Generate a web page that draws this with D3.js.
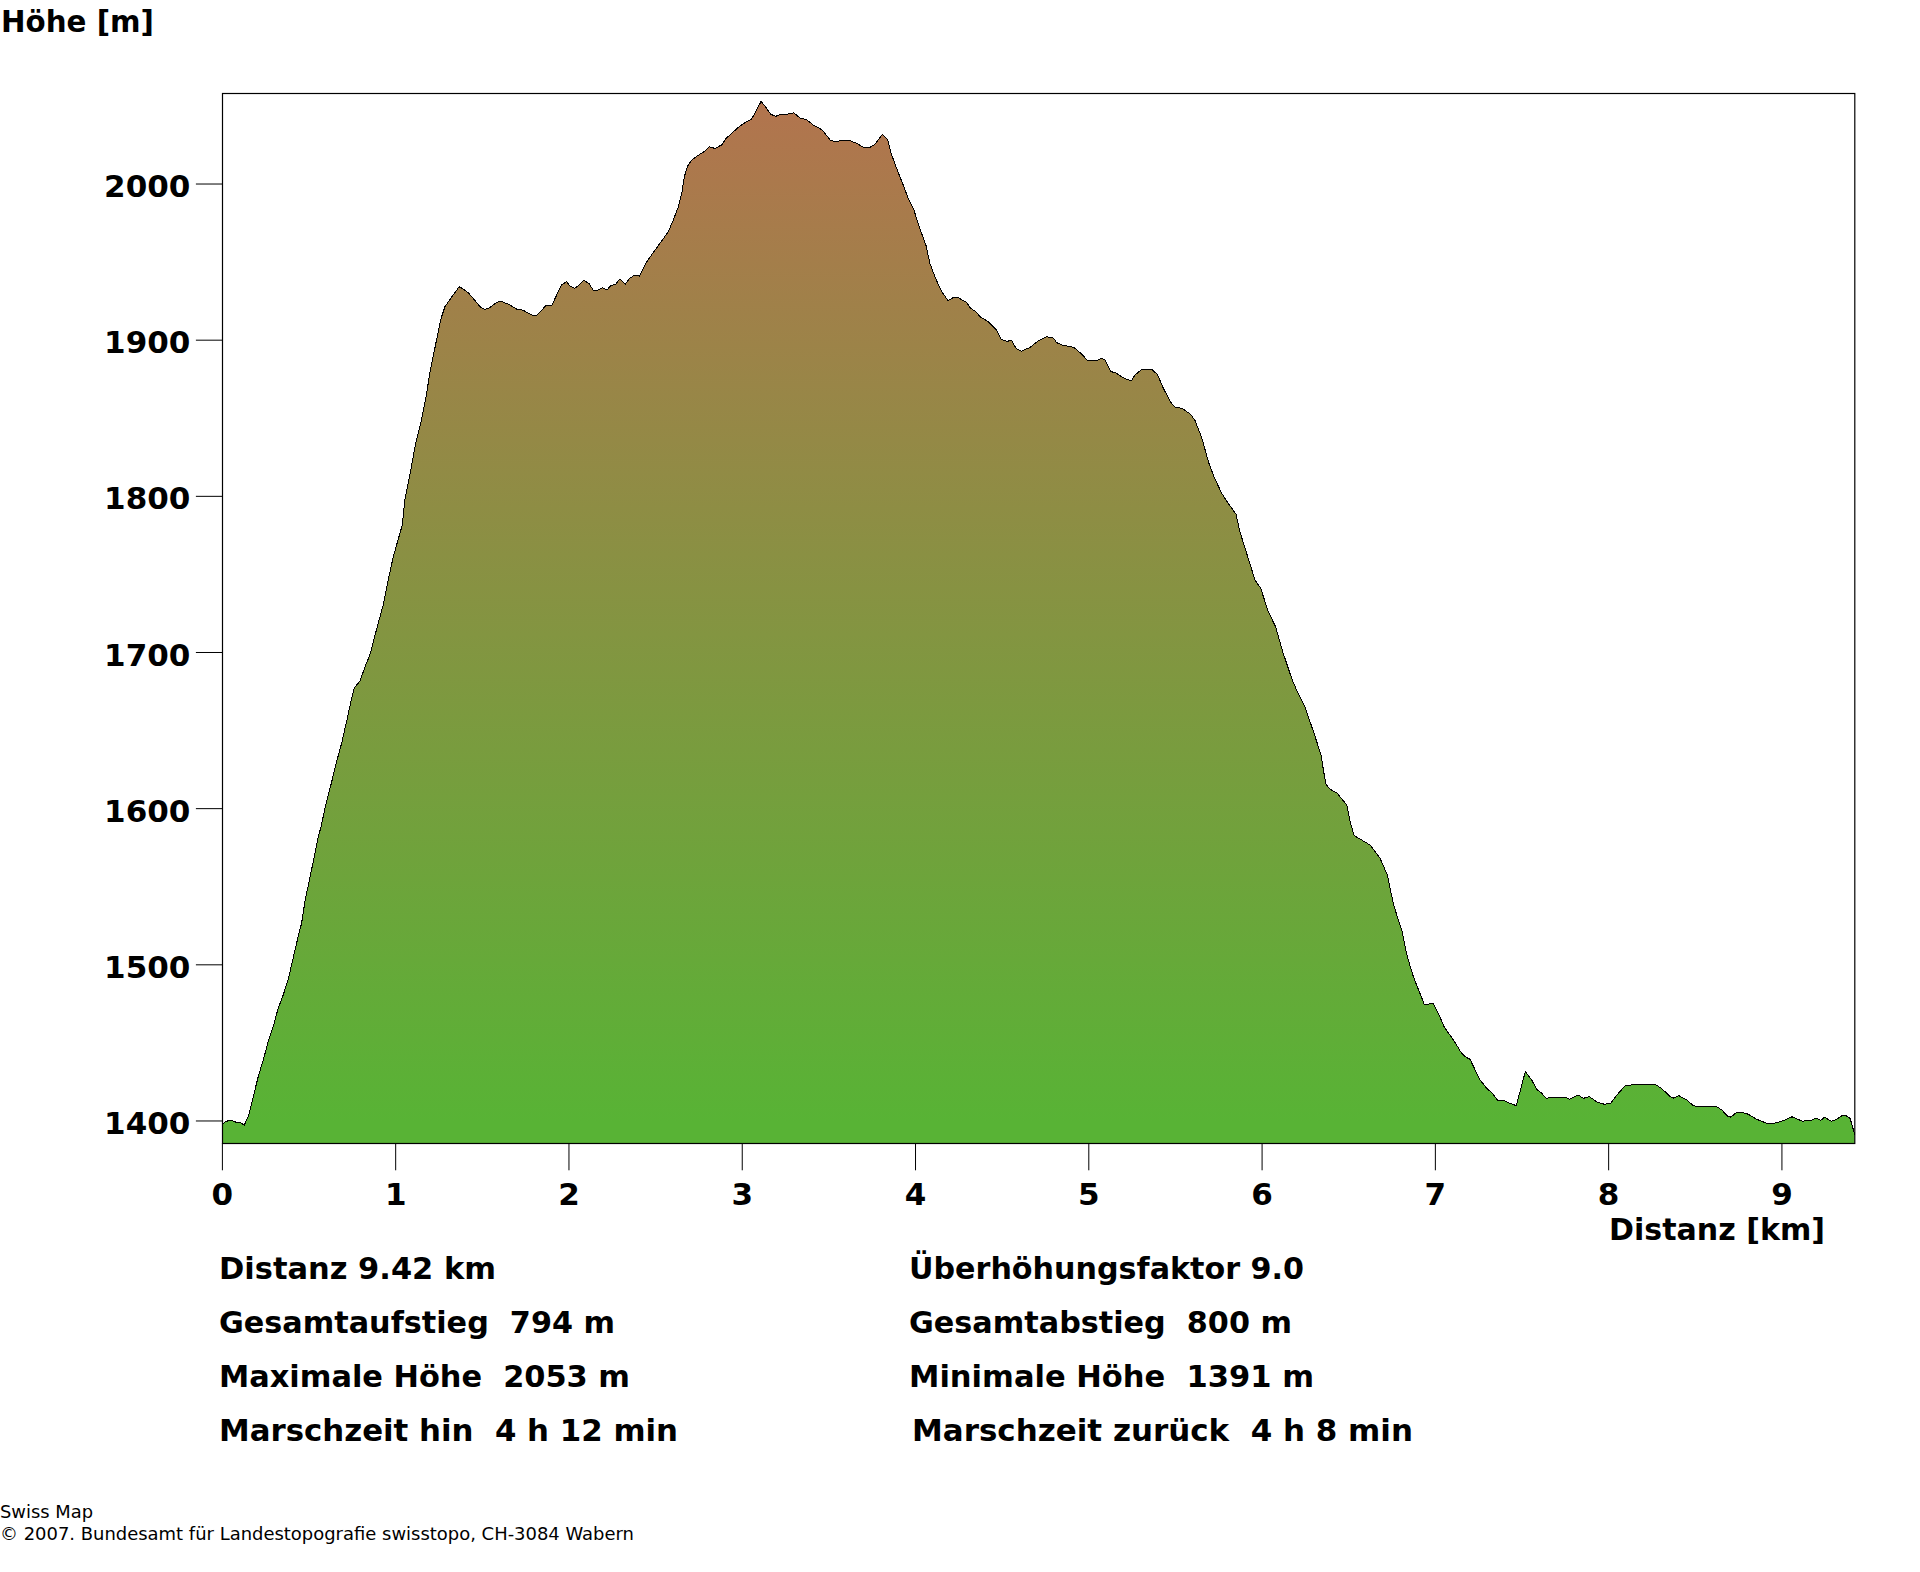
<!DOCTYPE html>
<html>
<head>
<meta charset="utf-8">
<script src="https://cdn.jsdelivr.net/npm/d3@7"></script>
<style>
html, body { margin: 0; padding: 0; background: #fff; }
svg { display: block; }
text { white-space: pre; fill: #000; }
</style>
</head>
<body>
<div id="chart"></div>
<script>
// Profile
var distKm = [
0,0.020,0.053,0.078,0.105,0.126,0.153,0.178,0.209,0.235,0.264,0.293,0.322,0.351,0.379,0.408,0.437,0.457,0.476,0.496,
0.524,0.553,0.567,0.592,0.631,0.659,0.688,0.721,0.746,0.761,0.794,0.827,0.851,0.899,0.928,0.957,0.986,1.038,1.053,1.072,
1.098,1.115,1.149,1.174,1.197,1.226,1.259,1.284,1.322,1.366,1.393,1.422,1.458,1.492,1.515,1.540,1.567,1.598,1.621,1.660,
1.702,1.733,1.771,1.794,1.817,1.842,1.867,1.902,1.929,1.958,1.987,2.005,2.033,2.059,2.086,2.115,2.140,2.169,2.192,2.220,
2.240,2.271,2.294,2.324,2.351,2.376,2.406,2.449,2.487,2.525,2.573,2.602,2.631,2.651,2.666,2.683,2.708,2.746,2.785,2.810,
2.842,2.881,2.906,2.939,2.977,3.015,3.054,3.083,3.109,3.136,3.164,3.192,3.227,3.265,3.298,3.337,3.368,3.410,3.462,3.507,
3.535,3.583,3.622,3.661,3.695,3.737,3.766,3.808,3.839,3.856,3.891,3.929,3.958,3.991,4.021,4.060,4.083,4.112,4.151,4.188,
4.217,4.246,4.295,4.318,4.349,4.372,4.420,4.465,4.494,4.526,4.555,4.580,4.610,4.661,4.708,4.757,4.795,4.815,4.852,4.914,
4.959,4.991,5.049,5.074,5.093,5.126,5.160,5.208,5.247,5.266,5.306,5.363,5.396,5.430,5.479,5.503,5.536,5.588,5.613,5.642,
5.661,5.690,5.722,5.767,5.805,5.849,5.872,5.911,5.959,5.992,6.036,6.078,6.122,6.174,6.199,6.247,6.300,6.340,6.354,6.368,
6.392,6.431,6.489,6.508,6.531,6.575,6.623,6.681,6.723,6.757,6.786,6.806,6.838,6.873,6.936,6.988,7.017,7.050,7.113,7.148,
7.171,7.200,7.258,7.297,7.331,7.358,7.392,7.421,7.467,7.519,7.556,7.585,7.614,7.639,7.677,7.748,7.773,7.825,7.854,7.889,
7.931,7.975,8.012,8.043,8.095,8.143,8.269,8.307,8.355,8.374,8.405,8.451,8.489,8.505,8.620,8.653,8.691,8.706,8.739,8.777,
8.806,8.854,8.912,8.956,9.008,9.058,9.118,9.173,9.196,9.225,9.245,9.284,9.317,9.346,9.370,9.393,9.405,9.420
];

var heightM = [
1398,1399.8,1400.4,1399.2,1398.9,1397.2,1404,1415.5,1429.4,1438.6,1450.8,1460.4,1472.2,1480.7,1490.3,1504.2,1518,1526.6,1540.4,1551.1,
1566,1582,1587.4,1600.2,1617.3,1630.1,1641.8,1657.9,1670.7,1677.1,1681.9,1692,1698.4,1718.7,1730.4,1746.4,1761.3,1781.6,1797.6,1808.3,
1823.2,1833.9,1848.9,1862.8,1878.8,1894.8,1912.9,1921.4,1927.4,1934.2,1932.6,1930,1925.3,1920.8,1919.7,1920.6,1922.9,1924.9,1924.4,1922.5,
1919.7,1919.3,1916.9,1915.9,1916.1,1918.9,1922.3,1922.5,1928.9,1935.5,1937.4,1934.7,1933.2,1935.3,1938.3,1936.4,1932.1,1932.1,1933.6,1932.1,
1934.9,1935.9,1939.3,1935.8,1939.6,1941.5,1941.1,1950.2,1956.2,1962,1969.4,1976.9,1985.4,1994,2004.7,2011.1,2015.3,2018.4,2021.1,2023.9,
2022.8,2025,2029.2,2032.4,2036.3,2039.2,2041.6,2047.4,2053,2049.1,2044.8,2043.3,2044.8,2044.8,2045.6,2042,2041.4,2037.8,2034.6,2028.2,
2027.1,2028,2027.7,2026,2023.7,2023.5,2025.4,2031.8,2028.6,2020.7,2010,1999.3,1990.8,1983.3,1972.6,1960.9,1949.2,1940.6,1931,1925.4,
1927.2,1927.2,1924.2,1920.4,1918.2,1915,1911.8,1906.9,1900.5,1899.4,1899.6,1894.8,1892.9,1895.4,1899.6,1902.2,1901.4,1898.4,1896.7,1895.4,
1891.1,1887.1,1887.1,1888.4,1887.3,1880,1878.8,1875.3,1874,1877.7,1881.3,1881.3,1878.1,1869.2,1859.1,1856.7,1856.5,1852.5,1848.5,1840.3,
1833.9,1822.2,1812.6,1801.9,1795.5,1788.7,1777.3,1763.5,1746.4,1741.1,1726.1,1716.5,1699.5,1682.4,1676,1665.3,1648.2,1634.4,1624.7,1615.8,
1612.4,1610.2,1602.3,1591.6,1582.7,1579.9,1576.7,1568.2,1557.5,1539.4,1528.7,1522.3,1505.2,1492.4,1474.7,1475.1,1469,1460.4,1450.4,1444,
1441.2,1439.5,1426.2,1420.9,1417.5,1413.4,1413.2,1411.7,1409.8,1431.6,1426.2,1420.3,1417.7,1414.5,1415.2,1415.2,1413.9,1416.6,1414.5,1415.6,
1412.2,1410.7,1411.3,1416,1422.6,1423.2,1423.5,1420.7,1415.6,1414.7,1416.2,1413.4,1409.8,1409.4,1409.4,1407,1402.7,1402.5,1405.6,1405.3,
1404.3,1401.1,1398.5,1398.5,1400.2,1402.7,1399.8,1400.6,1401.9,1400.4,1402.5,1399.8,1401.1,1403.4,1403.4,1401.7,1397.4,1391
];

var xTicks = [0, 1, 2, 3, 4, 5, 6, 7, 8, 9];
var yTicks = [1400, 1500, 1600, 1700, 1800, 1900, 2000];

var infoLeft = ['Distanz 9.42 km', 'Gesamtaufstieg  794 m', 'Maximale Höhe  2053 m', 'Marschzeit hin  4 h 12 min'];
var infoRight = ['Überhöhungsfaktor 9.0', 'Gesamtabstieg  800 m', 'Minimale Höhe  1391 m', 'Marschzeit zurück  4 h 8 min'];
var infoLeftWidth = [277, 396, 411, 459];
var infoRightWidth = [395, 383, 405, 501];
var infoY = [1279, 1333, 1387, 1441];

var boldFont = '"DejaVu Sans", sans-serif';
var profile = distKm.map((d, i) => [d, heightM[i]]);

var svg = d3.select('#chart').append('svg')
.attr('width', 1920)
.attr('height', 1572)
.style('font-family', boldFont);

var x = d3.scaleLinear().domain([0, 9.42]).range([222.4, 1854.7]);
var y = d3.scaleLinear().domain([1385.7, 2058.1]).range([1143.3, 93.3]);

var grad = svg.append('defs').append('linearGradient')
.attr('id', 'relief')
.attr('gradientUnits', 'userSpaceOnUse')
.attr('x1', 0).attr('x2', 0)
.attr('y1', y(2053)).attr('y2', y(1400));
grad.append('stop').attr('offset', 0).attr('stop-color', '#b2744e');
grad.append('stop').attr('offset', 1).attr('stop-color', '#58b335');

var area = d3.area().x(d => x(d[0])).y0(y.range()[0]).y1(d => y(d[1]));
var line = d3.line().x(d => x(d[0])).y(d => y(d[1]));

svg.append('path').datum(profile).attr('d', area).attr('fill', 'url(#relief)');
svg.append('path').datum(profile).attr('d', line)
.attr('fill', 'none').attr('stroke', '#000').attr('stroke-width', 1)
.attr('shape-rendering', 'crispEdges');

// frame
svg.append('rect')
.attr('x', 222.5).attr('y', 93.5)
.attr('width', x.range()[1] - x.range()[0]).attr('height', y.range()[0] - y.range()[1])
.attr('fill', 'none').attr('stroke', '#000').attr('stroke-width', 1.2);

var gx = svg.append('g')
.attr('transform', 'translate(0,' + y.range()[0] + ')')
.call(d3.axisBottom(x).tickValues(xTicks).tickFormat(d3.format('d')).tickSize(27).tickPadding(13).offset(0));
var gy = svg.append('g')
.attr('transform', 'translate(222.4,0)')
.call(d3.axisLeft(y).tickValues(yTicks).tickFormat(d3.format('d')).tickSize(26.5).tickPadding(5.5).offset(0));

gx.select('.domain').remove();
gy.select('.domain').remove();
gx.attr('font-family', null);
gy.attr('font-family', null);
svg.selectAll('.tick line').attr('stroke', '#000').attr('stroke-width', 1);
svg.selectAll('.tick text').attr('fill', '#000')
.style('font-family', boldFont)
.style('font-size', '31px').style('font-weight', 'bold');
gy.selectAll('.tick text').attr('dy', '0.42em');

svg.append('text').attr('x', 1).attr('y', 32)
.style('font-size', '31px').style('font-weight', 'bold')
.attr('textLength', 153).attr('lengthAdjust', 'spacingAndGlyphs')
.text('Höhe [m]');
svg.append('text').attr('x', 1609).attr('y', 1240)
.style('font-size', '31px').style('font-weight', 'bold')
.attr('textLength', 216).attr('lengthAdjust', 'spacingAndGlyphs')
.text('Distanz [km]');

infoLeft.forEach((t, i) => {
 svg.append('text').attr('x', 219).attr('y', infoY[i])
 .style('font-size', '31px').style('font-weight', 'bold')
 .attr('textLength', infoLeftWidth[i]).attr('lengthAdjust', 'spacingAndGlyphs')
 .text(t);
});
infoRight.forEach((t, i) => {
 svg.append('text').attr('x', i == 3 ? 912 : 909).attr('y', infoY[i])
 .style('font-size', '31px').style('font-weight', 'bold')
 .attr('textLength', infoRightWidth[i]).attr('lengthAdjust', 'spacingAndGlyphs')
 .text(t);
});

svg.append('text').attr('x', 0).attr('y', 1518)
.style('font-size', '17px')
.attr('textLength', 93).attr('lengthAdjust', 'spacingAndGlyphs')
.text('Swiss Map');
svg.append('text').attr('x', 0).attr('y', 1540)
.style('font-size', '17px')
.attr('textLength', 634).attr('lengthAdjust', 'spacingAndGlyphs')
.text('© 2007. Bundesamt für Landestopografie swisstopo, CH-3084 Wabern');
</script>
</body>
</html>
